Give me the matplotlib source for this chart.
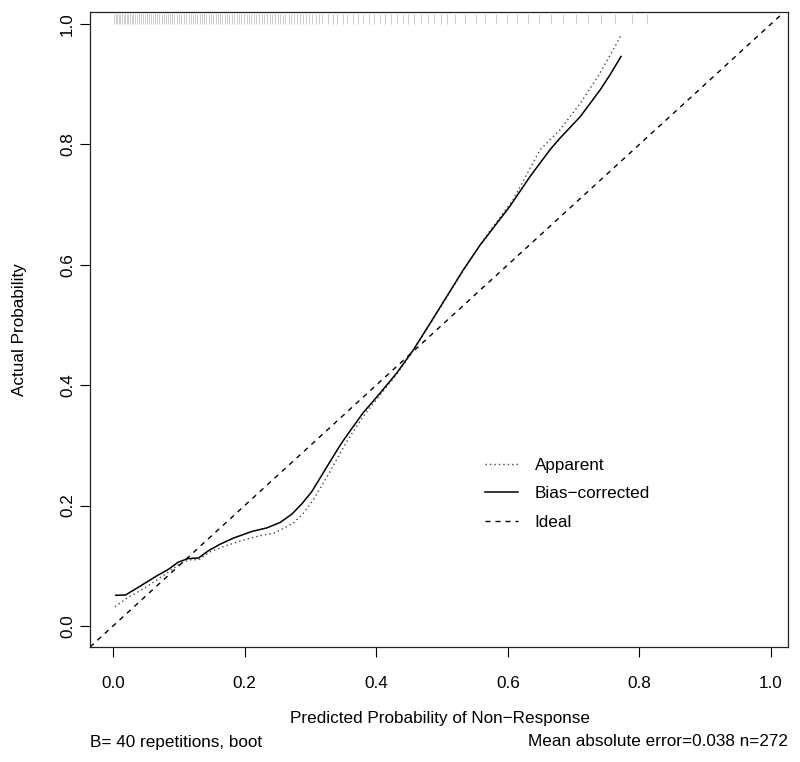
import matplotlib
matplotlib.use("Agg")
import matplotlib.pyplot as plt
import matplotlib.transforms as mtransforms

plt.rcParams['font.family'] = ['Liberation Sans', 'DejaVu Sans']

# Bias-corrected calibration curve
bias_x = [0.004, 0.019, 0.041, 0.066, 0.084, 0.099, 0.114, 0.130, 0.145, 0.163,
          0.183, 0.211, 0.234, 0.254, 0.272, 0.287, 0.302, 0.312, 0.322, 0.345,
          0.355, 0.380, 0.406, 0.431, 0.456, 0.482, 0.507, 0.532, 0.558, 0.570,
          0.603, 0.634, 0.664, 0.679, 0.710, 0.740, 0.755, 0.772]
bias_y = [0.051, 0.0515, 0.066, 0.083, 0.094, 0.106, 0.112, 0.113, 0.125, 0.136,
          0.146, 0.157, 0.163, 0.172, 0.186, 0.203, 0.223, 0.241, 0.259, 0.300,
          0.316, 0.354, 0.387, 0.420, 0.458, 0.503, 0.547, 0.591, 0.633, 0.650,
          0.697, 0.747, 0.791, 0.810, 0.846, 0.890, 0.915, 0.946]

# Apparent calibration curve
app_x = [0.003, 0.021, 0.051, 0.082, 0.102, 0.117, 0.130, 0.147, 0.168, 0.193,
         0.223, 0.244, 0.259, 0.274, 0.289, 0.304, 0.315, 0.330, 0.355, 0.380,
         0.406, 0.431, 0.456, 0.482, 0.507, 0.532, 0.558, 0.570, 0.608, 0.649,
         0.679, 0.710, 0.740, 0.760, 0.773]
app_y = [0.032, 0.046, 0.065, 0.088, 0.104, 0.110, 0.110, 0.123, 0.132, 0.141,
         0.150, 0.154, 0.162, 0.171, 0.187, 0.209, 0.229, 0.257, 0.306, 0.348,
         0.384, 0.418, 0.457, 0.502, 0.546, 0.590, 0.633, 0.652, 0.708, 0.791,
         0.824, 0.868, 0.918, 0.957, 0.983]

# Predicted probabilities (rug at top)
rug_x = [0.001, 0.004, 0.006, 0.009, 0.011, 0.013, 0.016, 0.018, 0.021, 0.023,
         0.026, 0.029, 0.031, 0.034, 0.037, 0.040, 0.043, 0.046, 0.049, 0.052,
         0.055, 0.058, 0.061, 0.064, 0.067, 0.070, 0.074, 0.077, 0.080, 0.083,
         0.087, 0.090, 0.093, 0.097, 0.100, 0.104, 0.108, 0.111, 0.115, 0.118,
         0.121, 0.125, 0.128, 0.132, 0.135, 0.139, 0.142, 0.146, 0.149, 0.152,
         0.156, 0.159, 0.163, 0.166, 0.170, 0.173, 0.177, 0.181, 0.184, 0.188,
         0.191, 0.195, 0.199, 0.203, 0.207, 0.210, 0.214, 0.218, 0.222, 0.226,
         0.230, 0.234, 0.238, 0.242, 0.246, 0.250, 0.254, 0.258, 0.262, 0.267,
         0.271, 0.275, 0.280, 0.284, 0.289, 0.293, 0.298, 0.303, 0.308, 0.313,
         0.318, 0.326, 0.334, 0.341, 0.349, 0.356, 0.364, 0.372, 0.380, 0.389,
         0.397, 0.405, 0.414, 0.422, 0.431, 0.440, 0.449, 0.458, 0.468, 0.478,
         0.488, 0.498, 0.508, 0.520, 0.535, 0.551, 0.566, 0.582, 0.598, 0.614,
         0.631, 0.648, 0.666, 0.684, 0.703, 0.722, 0.742, 0.763, 0.788, 0.812]

x_ticks = [0.0, 0.2, 0.4, 0.6, 0.8, 1.0]
y_ticks = [0.0, 0.2, 0.4, 0.6, 0.8, 1.0]
tick_labels = ["0.0", "0.2", "0.4", "0.6", "0.8", "1.0"]

W, H = 800, 762
fig = plt.figure(figsize=(W / 100, H / 100), dpi=100)
ax = fig.add_axes([90 / W, 1 - 647 / H, (788 - 90) / W, (647 - 12) / H])
ax.set_xlim(-0.035, 1.0258)
ax.set_ylim(-0.0349, 1.0199)

fs = 12.3

# rug
trans = mtransforms.blended_transform_factory(ax.transData, ax.transAxes)
ax.vlines(rug_x, 0.981, 0.997, transform=trans, color='#c4c4c4', linewidth=0.6)

ideal = ax.axline((0, 0), slope=1, color='black', linewidth=1.0, dashes=(3.6, 3.6), label='Ideal')
app, = ax.plot(app_x, app_y, color='#444444', linewidth=1.0, dashes=(1.0, 2.2), label='Apparent')
bias, = ax.plot(bias_x, bias_y, color='black', linewidth=1.1, label='Bias\u2212corrected')

ax.set_xticks(x_ticks)
ax.set_xticklabels(tick_labels)
ax.set_yticks(y_ticks)
ax.set_yticklabels(tick_labels, rotation=90, va='center')
ax.tick_params(axis='both', direction='out', length=7.2, width=0.8, labelsize=fs, color='black')
ax.tick_params(axis='x', pad=13.5)
ax.tick_params(axis='y', pad=3.5)
for s in ax.spines.values():
    s.set_linewidth(0.9)
    s.set_color('#222222')

leg = ax.legend(handles=[app, bias, ideal], loc='upper left',
                bbox_to_anchor=(485 / W, 1 - 458 / H), bbox_transform=fig.transFigure,
                frameon=False, fontsize=fs, handlelength=1.95, handletextpad=0.95,
                labelspacing=0.78, borderpad=0, borderaxespad=0)

fig.text(440 / W, 1 - 719 / H, "Predicted Probability of Non\u2212Response", ha='center', va='center', fontsize=fs)
fig.text(20 / W, 1 - 330 / H, "Actual Probability", ha='center', va='center', rotation=90, fontsize=fs)
fig.text(90 / W, 1 - 742 / H, "B= 40 repetitions, boot", ha='left', va='center', fontsize=fs)
fig.text(788 / W, 1 - 742 / H, "Mean absolute error=0.038 n=272", ha='right', va='center', fontsize=fs)

fig.savefig("out.png", dpi=100)
